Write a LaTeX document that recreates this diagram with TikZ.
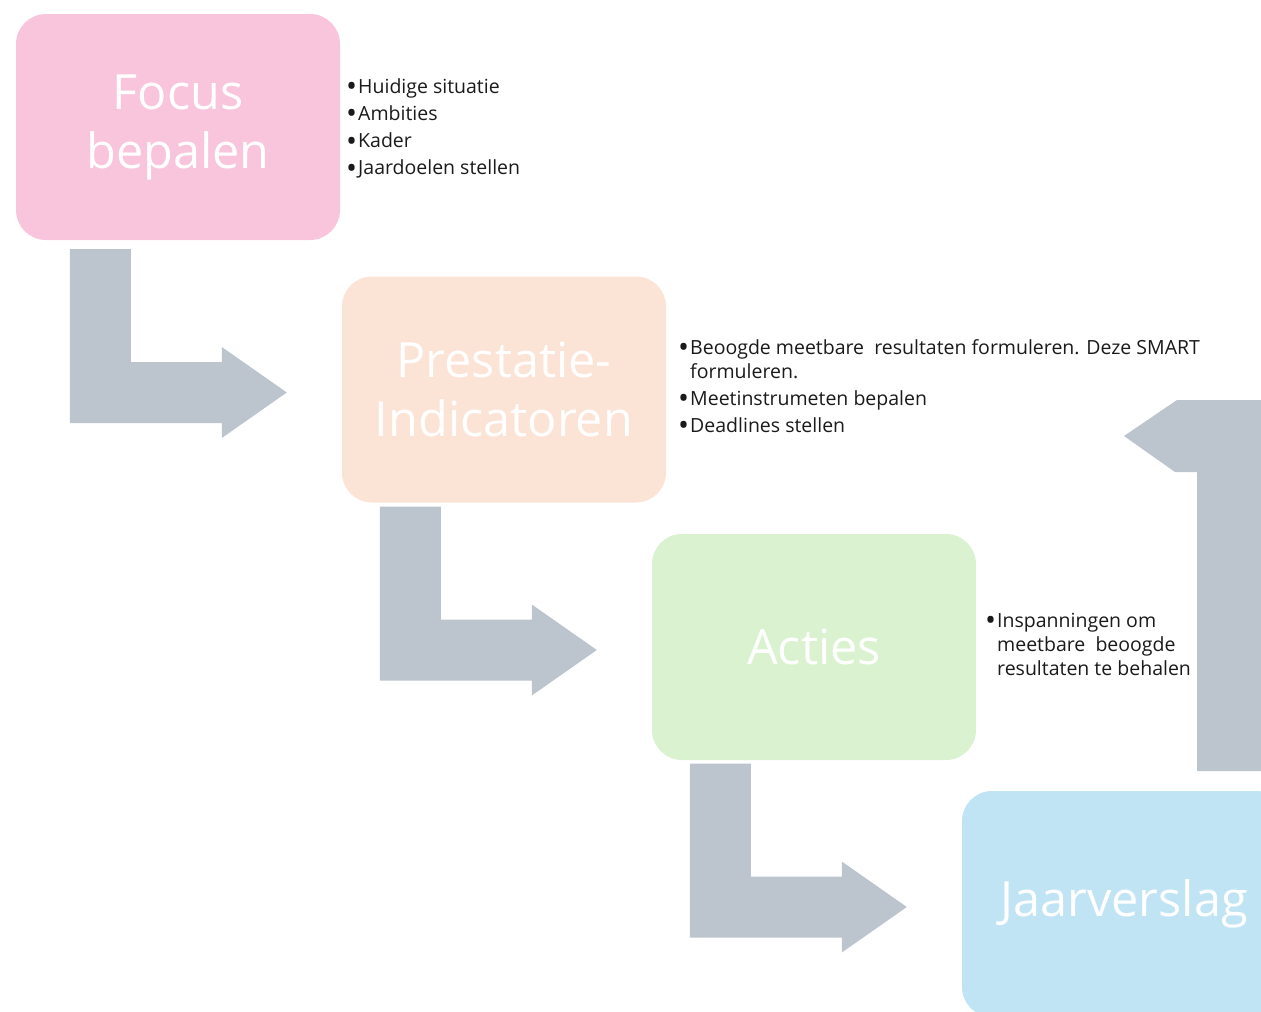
\documentclass[tikz,border=0pt]{standalone}
\usepackage{fontspec}
\setmainfont{Open Sans}
\definecolor{focus color}{HTML}{F8C5DC}
\definecolor{prestatie color}{HTML}{FBE3D6}
\definecolor{acties color}{HTML}{DAF2D0}
\definecolor{jaarverslag color}{HTML}{C1E4F5}
\definecolor{arrow color}{HTML}{BCC4CE}
\definecolor{list color}{HTML}{1A1A1A}
\newcommand\itembullet{\makebox[12pt][l]{\raisebox{-3.4pt}{\scalebox{1.5}{\textbullet}}}}
\tikzset{
    x={1pt},
    y={-1pt},
    phase box/.style={
        fill={#1}, draw=none,
        rounded corners=30,
        minimum width={324},
        minimum height={226},
        inner sep=0pt,
        align=center,
        text=white,
        font={\fontsize{48.6}{59}\selectfont},
    },
    bent arrow/.style={
        fill=arrow color, draw=none,
    },
    bullet list/.style={
        anchor=north west,
        align=left,
        inner sep=0pt,
        text=list color,
        font={\fontsize{19.5}{24}\selectfont},
    },
}

\begin{document}
\begin{tikzpicture}
\useasboundingbox (0,0) rectangle (1261,1012);
\clip (0,0) rectangle (1261,1012);
% boxes
\node[phase box={focus color}] (focus) at (178,127) {Focus\\bepalen};
\node[phase box={prestatie color}] (prestatie) at (504,389.5) {Prestatie-\\Indicatoren};
\node[phase box={acties color}] (acties) at (814,647) {Acties};
\node[phase box={jaarverslag color}] (jaarverslag) at (1124,904) {Jaarverslag};
% arrows
\foreach \target in {prestatie,acties,jaarverslag} {
    \fill[bent arrow, shift={(\target.west)}] (-272,-140.5) -- (-211,-140.5) -- (-211,-27.5) -- (-120,-27.5) -- (-120,-42.5) -- (-55,3) -- (-120,48.5) -- (-120,33.5) -- (-272,33.5) -- cycle;
}
\fill[bent arrow] (1177,400) -- (1124,436) -- (1175,472) -- (1197,472) -- (1197,771) -- (1270,771) -- (1270,400) -- cycle;
% bullets
\node[bullet list] (focus list) at (346,78) {\itembullet Huidige situatie\\[3.3pt]\itembullet Ambities\\[3.3pt]\itembullet Kader\\[3.3pt]\itembullet Jaardoelen stellen};
\node[bullet list] (prestatie list) at (678,339) {\itembullet Beoogde meetbare\ \ resultaten formuleren. Deze SMART\\\hspace*{12pt}formuleren.\\[3pt]\itembullet Meetinstrumeten bepalen\\[3pt]\itembullet Deadlines stellen};
\node[bullet list] (acties list) at (985,613) {\itembullet Inspanningen om\\\hspace*{12pt}meetbare\ \ beoogde\\\hspace*{12pt}resultaten te behalen};
\end{tikzpicture}
\end{document}
